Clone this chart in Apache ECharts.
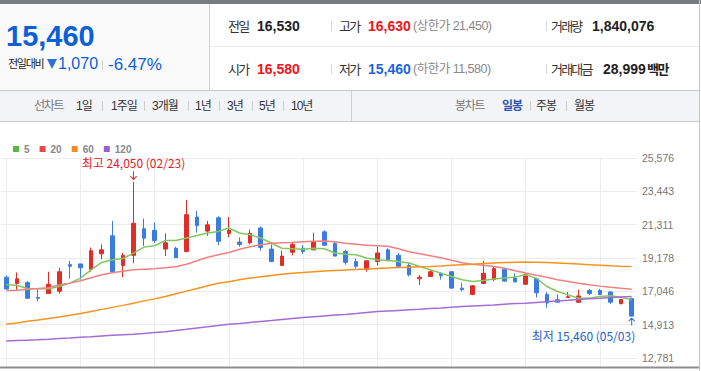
<!DOCTYPE html>
<html><head><meta charset="utf-8">
<script src="https://cdn.jsdelivr.net/npm/echarts@6/dist/echarts.min.js"></script>
<style>
html,body{margin:0;padding:0;background:#fff;width:701px;height:371px;overflow:hidden;}
#chart{position:absolute;left:0;top:0;width:701px;height:371px;}
#hdr{position:absolute;left:0;top:0;width:701px;height:371px;pointer-events:none;z-index:2;}
.t{position:absolute;white-space:nowrap;line-height:1;font-family:"Liberation Sans","Noto Sans CJK KR",sans-serif;}
</style></head><body>
<div id="chart"></div>
<div id="hdr"></div>
<script>
// ---------- data ----------
const dates = ['02/07','02/08','02/09','02/10','02/11','02/14','02/15','02/16','02/17','02/18','02/21','02/22','02/23','02/24','02/25','02/28',
'03/02','03/03','03/04','03/07','03/08','03/10','03/11','03/14','03/15','03/16','03/17','03/18','03/21','03/22','03/23','03/24','03/25','03/28','03/29','03/30','03/31',
'04/01','04/04','04/05','04/06','04/07','04/08','04/11','04/12','04/13','04/14','04/15','04/18','04/19','04/20','04/21','04/22','04/25','04/26','04/27','04/28','04/29',
'05/02','05/03'];
const openP  = [17950,17550,17600,16650,16900,17050,18750,18800,18450,19450,20600,18700,19350,21050,20950,19750,19800,19600,21800,20900,21750,20750,20200,20150,21100,19750,18700,19550,19800,19700,20850,20100,19600,18950,18450,18950,19700,19350,18700,17850,18000,18200,18300,17250,16850,17550,17800,18450,17900,17500,17850,16850,16500,16650,16350,17100,17100,17000,16250,16580];
const closeP = [17200,17850,16600,16600,17500,18300,18650,18550,19650,19700,18300,19350,21400,20450,20300,20150,19200,21950,21250,21300,20250,20950,20050,20750,19850,18950,19300,20050,19600,20200,20000,19300,18900,18650,19000,19500,19050,18650,18100,17950,18300,18050,17250,17150,17400,18200,18500,17700,17650,18100,16950,16300,16350,16700,16750,16900,16850,16350,16530,15460];
const lowP   = [17150,17150,16600,16400,16900,16900,17850,17800,18300,19100,18250,17950,18850,19950,20150,19300,19200,19550,20800,20600,20000,20500,19900,20050,19650,18950,18700,19350,19450,19700,19950,19300,18750,18500,18300,18700,18950,18600,18000,17450,18000,17800,17250,17050,16800,17500,17700,17650,17650,17450,16650,16000,16350,16650,16300,16800,16800,16250,16250,15460];
const highP  = [18050,18250,17700,17150,18300,18550,19000,18800,19850,20050,21550,19500,24050,21700,21450,20750,19900,22900,22200,21550,21850,21800,20500,21000,21200,20050,19650,20200,20000,20800,20950,20250,19700,19150,19000,19900,19800,19500,18850,18100,18400,18250,18300,17600,17450,19000,18650,18550,18200,18200,17900,17000,16850,17000,17150,17200,17200,17050,16530,16630];
const ma5   = [17462,17430,17225,17206,17206,17353,17571,17892,18424,18893,19066,19149,19495,19880,19964,20303,20303,20457,20624,20778,20881,21099,20778,20669,20457,20137,19803,19772,19739,19803,19772,19495,19418,19386,19175,19066,19021,18957,18854,18636,18424,18212,17994,17783,17674,17738,17828,17892,17956,18103,17892,17353,17032,16821,16609,16609,16712,16757,16673,16500];
const ma20  = [17096,17122,17186,17225,17270,17462,17571,17719,17911,18103,18232,18328,18424,18456,18488,18552,18617,18777,19001,19226,19386,19534,19739,19899,20028,20124,20156,20175,20220,20252,20265,20220,20124,20060,19996,19964,19931,19771,19579,19450,19322,19194,19034,18873,18777,18713,18636,18520,18360,18212,18071,17943,17783,17674,17558,17462,17379,17302,17238,17186];
const ma60  = [14941,15025,15134,15217,15313,15410,15519,15634,15762,15891,16019,16147,16288,16436,16564,16712,16885,17058,17225,17398,17558,17655,17783,17892,17975,18052,18136,18200,18251,18296,18341,18379,18411,18443,18469,18501,18533,18565,18591,18617,18636,18668,18713,18745,18777,18822,18854,18886,18905,18918,18912,18893,18860,18828,18790,18745,18713,18681,18655,18636];
const ma120 = [13870,13896,13922,13947,13979,14024,14063,14107,14146,14191,14236,14268,14300,14351,14415,14467,14544,14621,14704,14781,14864,14935,14993,15057,15121,15179,15249,15307,15365,15422,15474,15525,15570,15621,15686,15750,15788,15827,15865,15904,15948,15987,16032,16077,16115,16147,16179,16224,16263,16288,16333,16378,16429,16474,16526,16577,16609,16648,16680,16712];
const maNames = ['5','20','60','120'];
const yTickLabels = ['12,781','14,913','17,046','19,178','21,311','23,443','25,576'];
const yMin = 12781, yMax = 25576, yStep = 2132.5;

// ---------- header (HTML) ----------
const hdr = document.getElementById('hdr');
function box(l,t,w,h,bg,extra){const d=document.createElement('div');d.style.cssText=`position:absolute;left:${l}px;top:${t}px;width:${w}px;height:${h}px;background:${bg};${extra||''}`;hdr.appendChild(d);return d;}
function txt(x,base,s,size,color,weight,ls){const d=document.createElement('span');d.className='t';d.textContent=s;d.style.cssText=`left:${x}px;top:${(base-0.8465*size).toFixed(2)}px;font-size:${size}px;color:${color};font-weight:${weight||'normal'};letter-spacing:${ls||0}px`;hdr.appendChild(d);}
box(0,0,701,4,'#777c83');
box(0,4,209,86,'#fafafb');
box(209,4,1,86,'#d4d4d4');
box(210,46,489,1,'#e8e8e8');
box(0,90,699,1,'#c8c8c8');
box(0,91,699,30,'#f3f4f7');
box(0,121,699,1,'#c8c8c8');
box(351,91,1,30,'#d0d0d0');
box(699,0,1,371,'#c4c4c4');
// left panel
txt(6,46.7,'15,460',29,'#0d5fd8','bold');
txt(8,68.5,'전일대비',11,'#222','normal',-1.3);
box(47,59,0,0,'transparent','border-left:5px solid transparent;border-right:5px solid transparent;border-top:10px solid #2f6fdc;');
txt(58,70,'1,070',16,'#0d5fd8');
box(102,60,1,10,'#d0d0d0');
txt(108,70,'-6.47%',17,'#0d5fd8');
// rows
[[331,21],[546,21],[331,64],[546,64]].forEach(p=>box(p[0],p[1],1,10,'#d6d6d6'));
txt(228,31,'전일',13,'#333','normal',-1.6);
txt(257,31,'16,530',14,'#222','bold');
txt(339,31,'고가',13,'#333','normal',-1.6);
txt(368,31,'16,630',14,'#f3131a','bold');
txt(413,31,'(상한가 21,450)',12.5,'#888','normal',-0.5);
txt(551,31,'거래량',13,'#333','normal',-1.8);
txt(592,31,'1,840,076',14,'#222','bold');
txt(228,74,'시가',13,'#333','normal',-1.6);
txt(257,74,'16,580',14,'#f3131a','bold');
txt(339,74,'저가',13,'#333','normal',-1.6);
txt(368,74,'15,460',14,'#1a66de','bold');
txt(413,74,'(하한가 11,580)',12.5,'#888','normal',-0.5);
txt(551,74,'거래대금',13,'#333','normal',-1.8);
txt(603,74,'28,999',14,'#222','bold');
txt(647,74,'백만',13,'#222','bold',-1.5);
// toolbar
[102,144,188,219,252,283,530,566].forEach(x=>box(x,101,1,10,'#cfcfcf'));
txt(34,110,'선차트',12,'#777','normal',-1.3);
txt(76,110,'1일',12,'#333','normal',-1);
txt(111,110,'1주일',12,'#333','normal',-1);
txt(152,110,'3개월',12,'#333','normal',-1);
txt(195,110,'1년',12,'#333','normal',-1);
txt(227,110,'3년',12,'#333','normal',-1);
txt(259,110,'5년',12,'#333','normal',-1);
txt(291,110,'10년',12,'#333','normal',-1);
txt(455,110,'봉차트',12,'#777','normal',-1.3);
txt(502,110,'일봉',12,'#2c55b5','bold',-1);
txt(536,110,'주봉',12,'#333','normal',-1);
txt(574,110,'월봉',12,'#333','normal',-1);

// ---------- chart ----------
const maData = [ma5, ma20, ma60, ma120];
const maColors = ['#80c862','#f28080','#f7921f','#a56cd6'];
const legendColors = ['#52bb47','#ec4545','#f58a1e','#9c5fd0'];
const candleData = dates.map((d,i)=>[openP[i], closeP[i], lowP[i], highP[i]]);
let iMax = 0, iMin = 0;
highP.forEach((v,i)=>{ if (v > highP[iMax]) iMax = i; });
lowP.forEach((v,i)=>{ if (v < lowP[iMin]) iMin = i; });
const fmt = v => v.toLocaleString('en-US');
const maxText = '최고 ' + fmt(highP[iMax]) + ' (' + dates[iMax] + ')';
const minText = '최저 ' + fmt(lowP[iMin]) + ' (' + dates[iMin] + ')';
const downArrow = 'path://M-0.5,0 L0.5,0 L0.5,7 L3,4.5 L3.7,5.2 L0,9 L-3.7,5.2 L-3,4.5 L-0.5,7 Z';
const upArrow = 'path://M-0.5,9 L0.5,9 L0.5,2 L3,4.5 L3.7,3.8 L0,0 L-3.7,3.8 L-3,4.5 L-0.5,2 Z';

const chart = echarts.init(document.getElementById('chart'), null, {renderer:'svg'});
chart.setOption({
  animation:false,
  backgroundColor:'#fff',
  legend:{left:8, top:138, icon:'rect', itemWidth:6, itemHeight:6, itemGap:10, selectedMode:false,
    textStyle:{color:'#888', fontSize:10, fontWeight:'bold', fontFamily:'Liberation Sans, Arial, sans-serif', lineHeight:12},
    data: maNames.map((n,k)=>({name:n, itemStyle:{color:legendColors[k]}}))},
  grid:[
    {left:1, top:158, width:636, height:200, outerBoundsMode:'none', containLabel:false},
    {left:6.3, top:158, width:625.4, height:209, outerBoundsMode:'none', containLabel:false}
  ],
  xAxis:[
    {type:'category', gridIndex:0, data:dates, boundaryGap:true, axisLine:{show:false}, axisTick:{show:false}, axisLabel:{show:false}, splitLine:{show:false}},
    {type:'value', gridIndex:1, min:0, max:dates.length-1, interval:7, axisLine:{show:false}, axisTick:{show:false}, axisLabel:{show:false},
     splitLine:{show:true, showMinLine:true, showMaxLine:false, lineStyle:{color:'#ececec', width:1}}}
  ],
  yAxis:[
    {type:'value', gridIndex:0, position:'right', min:yMin, max:yMax, interval:yStep,
     axisLine:{show:false}, axisTick:{show:false},
     axisLabel:{margin:5, color:'#777', fontSize:10.5, fontFamily:'Liberation Sans, Arial, sans-serif',
       formatter:(v)=>{const k=Math.round((v-yMin)/yStep); return yTickLabels[k]||'';}},
     splitLine:{show:true, lineStyle:{color:'#ececec', width:1}}},
    {type:'value', gridIndex:1, min:0, max:1, show:false, splitLine:{show:false}}
  ],
  graphic:[
    {type:'line', silent:true, z:10, shape:{x1:0, y1:367.5, x2:699, y2:367.5}, style:{stroke:'#8e8e8e', lineWidth:2}}
  ],
  series:[
    {type:'candlestick', name:'일봉', xAxisIndex:0, yAxisIndex:0, data:candleData, barWidth:4,
     itemStyle:{color:'#e12d27', color0:'#3a7ce0', borderColor:'#e12d27', borderColor0:'#3a7ce0', borderWidth:1},
     markPoint:{silent:true, animation:false, data:[
       {name:'max', coord:[dates[iMax], highP[iMax]], symbol:downArrow, symbolSize:[7,9], symbolOffset:[0,-6],
        itemStyle:{color:'#e3202a'},
        label:{show:true, position:'top', distance:2, formatter:()=>maxText, color:'#e3202a', fontSize:12, lineHeight:13, fontFamily:'Noto Sans CJK KR, sans-serif'}},
       {name:'min', coord:[dates[iMin], lowP[iMin]], symbol:upArrow, symbolSize:[7,8], symbolOffset:[0,5.5],
        itemStyle:{color:'#1c62cc'},
        label:{show:true, position:'bottom', distance:3, align:'right', offset:[3.5,0], formatter:()=>minText, color:'#1c62cc', fontSize:12, lineHeight:13, fontFamily:'Noto Sans CJK KR, sans-serif'}}
     ]}
    }
  ].concat(maNames.map((n,k)=>({
    type:'line', name:n, xAxisIndex:0, yAxisIndex:0, data:maData[k], showSymbol:false, symbol:'none', smooth:false, silent:true, z:3,
    lineStyle:{color:maColors[k], width:1.5}, itemStyle:{color:legendColors[k]}
  })))
});
</script>
</body></html>
